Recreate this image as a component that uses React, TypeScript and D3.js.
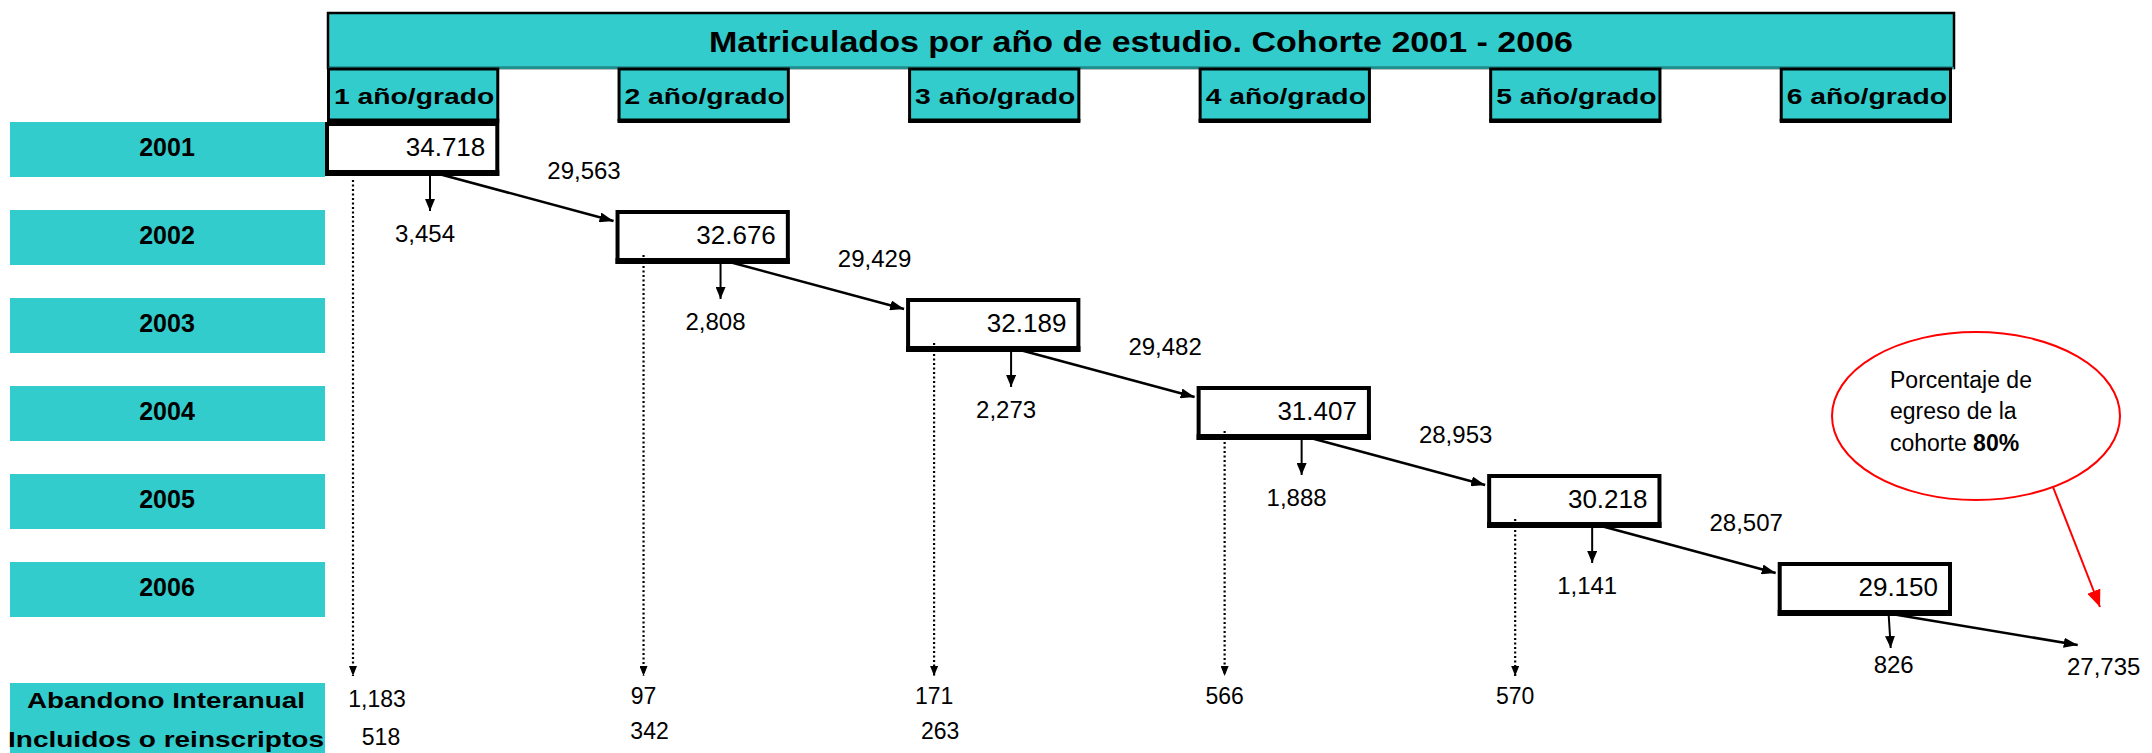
import React from 'react';
import * as d3 from 'd3';

// años de la cohorte (filas) y grados (columnas)
const years = ['2001', '2002', '2003', '2004', '2005', '2006'];
const grades = ['1 año/grado', '2 año/grado', '3 año/grado', '4 año/grado', '5 año/grado', '6 año/grado'];

// matriculados en cada grado
const enrolled = [34718, 32676, 32189, 31407, 30218, 29150];
// pasan al grado siguiente (el último = egresados)
const promoted = [29563, 29429, 29482, 28953, 28507, 27735];
// repitientes del año
const repeaters = [3454, 2808, 2273, 1888, 1141, 826];
// abandono interanual e incluidos
const dropouts = [1183, 97, 171, 566, 570];
const included = [518, 342, 263];

const TEAL = '#33CCCC';
const FONT = '"Liberation Sans", Arial, sans-serif';

const W = 2152;
const H = 753;

const fmtDot = d3.formatLocale({ decimal: ',', thousands: '.', grouping: [3], currency: ['', ''] }).format(',');
const fmtComma = d3.format(',');

export default function App() {
  const x = d3.scaleBand<string>().domain(grades).range([327, 1952]).paddingInner(0.407).paddingOuter(0);
  const y = d3.scaleBand<string>().domain(years).range([122, 617]).paddingInner(0.375).paddingOuter(0);
  const bw = x.bandwidth();
  const bh = y.bandwidth();

  const col = (i: number) => x(grades[i]) as number;
  const row = (i: number) => y(years[i]) as number;

  return (
    <svg
      width={W}
      height={H}
      style={{ position: 'absolute', left: 0, top: 0, background: '#fff' }}
      fontFamily={FONT}
    >
      <defs>
        <marker id="hBig" viewBox="0 0 14 10" refX={14} refY={5} markerWidth={14} markerHeight={10} markerUnits="userSpaceOnUse" orient="auto">
          <path d="M0,0L14,5L0,10z" fill="#000" />
        </marker>
        <marker id="hSmall" viewBox="0 0 12 10" refX={12} refY={5} markerWidth={12} markerHeight={10} markerUnits="userSpaceOnUse" orient="auto">
          <path d="M0,0L12,5L0,10z" fill="#000" />
        </marker>
        <marker id="hDot" viewBox="0 0 10 8" refX={10} refY={4} markerWidth={10} markerHeight={8} markerUnits="userSpaceOnUse" orient="auto">
          <path d="M0,0L10,4L0,8z" fill="#000" />
        </marker>
        <marker id="hRed" viewBox="0 0 17 14" refX={17} refY={7} markerWidth={17} markerHeight={14} markerUnits="userSpaceOnUse" orient="auto">
          <path d="M0,0L17,7L0,14z" fill="#ff0000" />
        </marker>
      </defs>

      {/* barra de título */}
      <rect x={328} y={13} width={1626} height={55} fill={TEAL} stroke="#000" strokeWidth={2.5} />
      <line x1={328} x2={1954} y1={68} y2={68} stroke="#1d8f8f" strokeWidth={2} />
      <text x={1141} y={52} textAnchor="middle" fontSize={29} fontWeight="bold" textLength={864} lengthAdjust="spacingAndGlyphs">
        Matriculados por año de estudio. Cohorte 2001 - 2006
      </text>

      {/* encabezados de grado */}
      {grades.map((g, i) => (
        <g key={g}>
          <rect x={col(i) + 1.5} y={69} width={bw - 3} height={51} fill={TEAL} stroke="#000" strokeWidth={3} />
          <line x1={col(i)} x2={col(i) + bw} y1={121} y2={121} stroke="#000" strokeWidth={4} />
          <text x={col(i) + bw / 2 + 1} y={104} textAnchor="middle" fontSize={22} fontWeight="bold" textLength={bw - 12} lengthAdjust="spacingAndGlyphs">
            {g}
          </text>
        </g>
      ))}

      {/* etiquetas de año */}
      {years.map((yr, i) => (
        <g key={yr}>
          <rect x={10} y={row(i)} width={315} height={bh} fill={TEAL} />
          <text x={167} y={row(i) + 34} textAnchor="middle" fontSize={25} fontWeight="bold">{yr}</text>
        </g>
      ))}

      {/* banda inferior */}
      <rect x={10} y={683} width={315} height={70} fill={TEAL} />
      <text x={166} y={708} textAnchor="middle" fontSize={22} fontWeight="bold" textLength={278} lengthAdjust="spacingAndGlyphs">Abandono Interanual</text>
      <text x={166} y={747} textAnchor="middle" fontSize={22} fontWeight="bold" textLength={316} lengthAdjust="spacingAndGlyphs">Incluidos o reinscriptos</text>

      {/* líneas punteadas de abandono */}
      {dropouts.map((v, i) => (
        <g key={'d' + i}>
          <line
            x1={col(i) + 26}
            x2={col(i) + 26}
            y1={row(i) + bh + (i === 0 ? 3 : -8)}
            y2={676}
            stroke="#000"
            strokeWidth={2.2}
            strokeDasharray="2 2.5"
            markerEnd="url(#hDot)"
          />
          <text x={col(i) + (i === 0 ? 50 : 26)} y={i === 0 ? 707 : 704} textAnchor="middle" fontSize={23}>{fmtComma(v)}</text>
        </g>
      ))}
      {included.map((v, i) => (
        <text key={'in' + i} x={col(i) + (i === 0 ? 54 : 32)} y={i === 0 ? 745 : 739} textAnchor="middle" fontSize={23}>{fmtComma(v)}</text>
      ))}

      {/* flechas diagonales de promoción */}
      {promoted.map((v, i) => {
        const x1 = col(i) + 112;
        const y1 = row(i) + bh - 3;
        const last = i === grades.length - 1;
        const x2 = last ? col(i) + 298 : col(i + 1) - 4;
        const y2 = last ? row(i) + bh + 28 : row(i + 1) + 11;
        return (
          <g key={'p' + i}>
            <line x1={x1} y1={y1} x2={x2} y2={y2} stroke="#000" strokeWidth={2.5} markerEnd="url(#hBig)" />
            <text
              x={last ? col(i) + 324 : col(i) + 257}
              y={last ? row(i) + bh + 58 : row(i) + bh + 2}
              textAnchor="middle"
              fontSize={24}
            >
              {fmtComma(v)}
            </text>
          </g>
        );
      })}

      {/* repitientes */}
      {repeaters.map((v, i) => {
        const last = i === grades.length - 1;
        const ax = col(i) + (last ? 109 : 103);
        const bottom = row(i) + bh;
        return (
          <g key={'r' + i}>
            <line x1={ax} x2={ax + (last ? 2 : 0)} y1={bottom - 2} y2={bottom + (last ? 31 : 34)} stroke="#000" strokeWidth={2} markerEnd="url(#hSmall)" />
            <text x={col(i) + (last ? 114 : 98)} y={bottom + (last ? 56 : 65)} textAnchor="middle" fontSize={24}>
              {fmtComma(v)}
            </text>
          </g>
        );
      })}

      {/* cajas de matriculados */}
      {enrolled.map((v, i) => (
        <g key={'e' + i}>
          <rect x={col(i)} y={row(i) + 2} width={bw - 2} height={bh - 5} fill="#fff" stroke="#000" strokeWidth={4} />
          <line x1={col(i) - 2} x2={col(i) + bw} y1={row(i) + bh - 4} y2={row(i) + bh - 4} stroke="#000" strokeWidth={6} />
          <text x={col(i) + bw - 14} y={row(i) + 34} textAnchor="end" fontSize={26}>{fmtDot(v)}</text>
        </g>
      ))}

      {/* línea punteada visible dentro de las cajas */}
      {dropouts.map((_, i) =>
        i === 0 ? null : (
          <line key={'di' + i} x1={col(i) + 26} x2={col(i) + 26} y1={row(i) + bh - 10} y2={row(i) + bh - 7} stroke="#000" strokeWidth={2.2} strokeDasharray="2 2.5" />
        )
      )}

      {/* anotación del porcentaje de egreso */}
      <ellipse cx={1976} cy={416} rx={144} ry={84} fill="#fff" stroke="#ff0000" strokeWidth={2} />
      <text x={1890} y={388} fontSize={23}>Porcentaje de</text>
      <text x={1890} y={419} fontSize={23}>egreso de la</text>
      <text x={1890} y={451} fontSize={23}>
        cohorte <tspan fontWeight="bold">80%</tspan>
      </text>
      <line x1={2053} y1={487} x2={2100} y2={607} stroke="#ff0000" strokeWidth={2} markerEnd="url(#hRed)" />
    </svg>
  );
}
